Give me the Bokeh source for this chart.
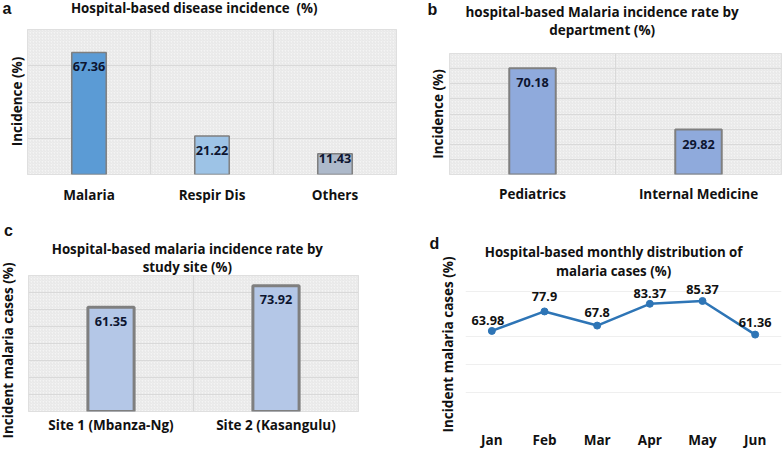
import math
from bokeh.plotting import figure
from bokeh.models import (Label, Span, BoxAnnotation, FixedTicker, ColumnDataSource, Range1d,
                          FactorRange, Grid)
from bokeh.layouts import column, row
from bokeh.embed import file_html
from bokeh.resources import INLINE
from bokeh.core.properties import value

# ---------------- data ----------------
a_categories = ["Malaria", "Respir Dis", "Others"]
a_values = [67.36, 21.22, 11.43]

b_categories = ["Pediatrics", "Internal Medicine"]
b_values = [70.18, 29.82]

c_categories = ["Site 1 (Mbanza-Ng)", "Site 2 (Kasangulu)"]
c_values = [61.35, 73.92]

d_months = ["Jan", "Feb", "Mar", "Apr", "May", "Jun"]
d_values = [63.98, 77.9, 67.8, 83.37, 85.37, 61.36]

# ---------------- styles ----------------
FONT = "Open Sans"
LETTER_FONT = "Liberation Sans"
TXT = "#111111"
VAL = "#0d1530"
GRID = "#d9d9d9"
TITLE_SIZE = "13.3px"
YLAB_SIZE = "13.5px"
LETTER_SIZE = "16px"


def text_fig(w, h, items):
    """Figure whose frame is the whole figure (pixel data units); carries texts only."""
    p = figure(width=w, height=h, x_range=Range1d(0, w), y_range=Range1d(0, h), title=None,
               x_axis_location=None, y_axis_location=None, toolbar_location=None,
               output_backend="svg", min_border=0, outline_line_color=None)
    p.grid.visible = False
    for text, x, y, size, font, angle in items:
        p.add_layout(Label(x=x, y=y, text=text, text_font=font, text_font_style="bold",
                           text_font_size=size, text_color=TXT, text_align="center",
                           text_baseline="middle", angle=angle))
    return p


def plot_fig(cats, y_range, w, h, br, bt, bb, grid_ticks, xlabel_standoff):
    p = figure(x_range=FactorRange(*cats), y_range=y_range, width=w, height=h, title=None,
               output_backend="svg", toolbar_location=None, y_axis_location=None,
               min_border_left=0, min_border_right=br, min_border_top=bt, min_border_bottom=bb)
    p.xaxis.axis_line_color = None
    p.xaxis.major_tick_line_color = None
    p.xaxis.minor_tick_line_color = None
    p.xaxis.major_tick_out = 0
    p.xaxis.major_tick_in = 0
    p.xaxis.major_label_text_font = FONT
    p.xaxis.major_label_text_font_style = "bold"
    p.xaxis.major_label_text_font_size = "13.5px"
    p.xaxis.major_label_text_color = TXT
    p.xaxis.major_label_standoff = xlabel_standoff
    p.xgrid.grid_line_color = None
    if len(p.ygrid) == 0:
        p.add_layout(Grid(dimension=1, ticker=FixedTicker(ticks=grid_ticks)))
    p.ygrid.ticker = FixedTicker(ticks=grid_ticks)
    p.ygrid.grid_line_color = GRID
    return p


def bar_plot(cats, vals, colors, w, h, br, bt, bb, ymax, step, bar_w, line_w,
             xlab_standoff, val_offsets):
    p = plot_fig(cats, Range1d(0, ymax), w, h, br, bt, bb, list(range(0, ymax + 1, step)),
                 xlab_standoff)
    p.outline_line_color = GRID
    p.background_fill_color = "#f4f4f4"
    p.add_layout(BoxAnnotation(fill_color="#f4f4f4", fill_alpha=1.0, line_color=None,
                               hatch_pattern="/", hatch_color="#dedede", hatch_scale=3,
                               hatch_weight=0.7, level="image"))
    for i in range(1, len(cats)):
        p.add_layout(Span(location=i, dimension="height", line_color=GRID, line_width=1,
                          level="underlay"))
    src = ColumnDataSource(dict(x=cats, top=vals, color=colors,
                                label=[str(v) for v in vals], off=val_offsets))
    p.vbar(x="x", top="top", width=bar_w, fill_color="color", line_color="#7f7f7f",
           line_width=line_w, source=src)
    p.text(x="x", y="top", text="label", y_offset="off", source=src,
           text_font=value(FONT), text_font_style="bold", text_font_size="12.7px",
           text_color=VAL, text_align="center", text_baseline="middle")
    return p


V = math.pi / 2

# ---------------- panel a ----------------
la = text_fig(27, 222, [("a", 6.5, 214, LETTER_SIZE, LETTER_FONT, 0),
                        ("Incidence (%)", 16, 121, YLAB_SIZE, FONT, V)])
ha = text_fig(383, 29, [("Hospital-based disease incidence\u00a0 (%)", 173, 22, TITLE_SIZE, FONT, 0)])
pa = bar_plot(a_categories, a_values, ["#5b9bd5", "#9dc3e6", "#adb9ca"], 383, 193,
              14, 0, 48, 80, 20, 0.28, 1.5, 11, [14, 14, 5])

# ---------------- panel b ----------------
lb = text_fig(39, 222, [("b", 22, 213, LETTER_SIZE, LETTER_FONT, 0),
                        ("Incidence (%)", 27, 108.5, YLAB_SIZE, FONT, V)])
hb = text_fig(335, 53, [("hospital-based Malaria incidence rate by", 154, 42, "13.5px", FONT, 0),
                        ("department (%)", 154, 24, "13.5px", FONT, 0)])
pb = bar_plot(b_categories, b_values, ["#8faadc", "#8faadc"], 335, 169,
              3, 0, 48, 80, 10, 0.28, 2, 10, [14, 15])

# ---------------- panel c ----------------
lc = text_fig(28, 229, [("c", 8, 221, LETTER_SIZE, LETTER_FONT, 0),
                        ("Incident malaria cases (%)", 7.5, 101, YLAB_SIZE, FONT, V)])
hc = text_fig(372, 53, [("Hospital-based malaria incidence rate by", 179, 27, TITLE_SIZE, FONT, 0),
                        ("study site (%)", 179, 8.5, TITLE_SIZE, FONT, 0)])
pc = bar_plot(c_categories, c_values, ["#b4c7e7", "#b4c7e7"], 372, 176,
              42, 0, 40, 80, 10, 0.28, 3, 4, [14, 14])

# ---------------- panel d ----------------
d_grid_ticks = [0, 20, 40, 60, 92]
d_label_dx = [-4, 0, 0, 0, 0, 0]
d_label_dy = [-10, -15, -13, -10, -11, -12]
ld = text_fig(65, 229, [("d", 34, 208, LETTER_SIZE, LETTER_FONT, 0),
                        ("Incident malaria cases (%)", 47, 107, YLAB_SIZE, FONT, V)])
hd = text_fig(319, 58, [("Hospital-based monthly distribution of", 149.5, 29, TITLE_SIZE, FONT, 0),
                        ("malaria cases (%)", 149.5, 9.3, TITLE_SIZE, FONT, 0)])
pd_ = plot_fig(d_months, Range1d(0, 100), 319, 171, 3, 0, 31, d_grid_ticks, 10)
pd_.ygrid.grid_line_color = "#efefef"
pd_.outline_line_color = None
dsrc = ColumnDataSource(dict(x=d_months, y=d_values, label=[str(v) for v in d_values],
                             dx=d_label_dx, dy=d_label_dy))
pd_.line(x="x", y="y", source=dsrc, line_color="#2e75b6", line_width=2.5)
pd_.scatter(x="x", y="y", source=dsrc, size=7, fill_color="#2e75b6", line_color="#2e75b6")
pd_.text(x="x", y="y", text="label", x_offset="dx", y_offset="dy", source=dsrc,
         text_font=value(FONT), text_font_style="bold", text_font_size="12.7px",
         text_color=TXT, text_align="center", text_baseline="middle")

layout = column(
    row(row(la, column(ha, pa)), row(lb, column(hb, pb))),
    row(row(lc, column(hc, pc)), row(ld, column(hd, pd_))),
)
open("out.html", "w").write(file_html(layout, INLINE))
